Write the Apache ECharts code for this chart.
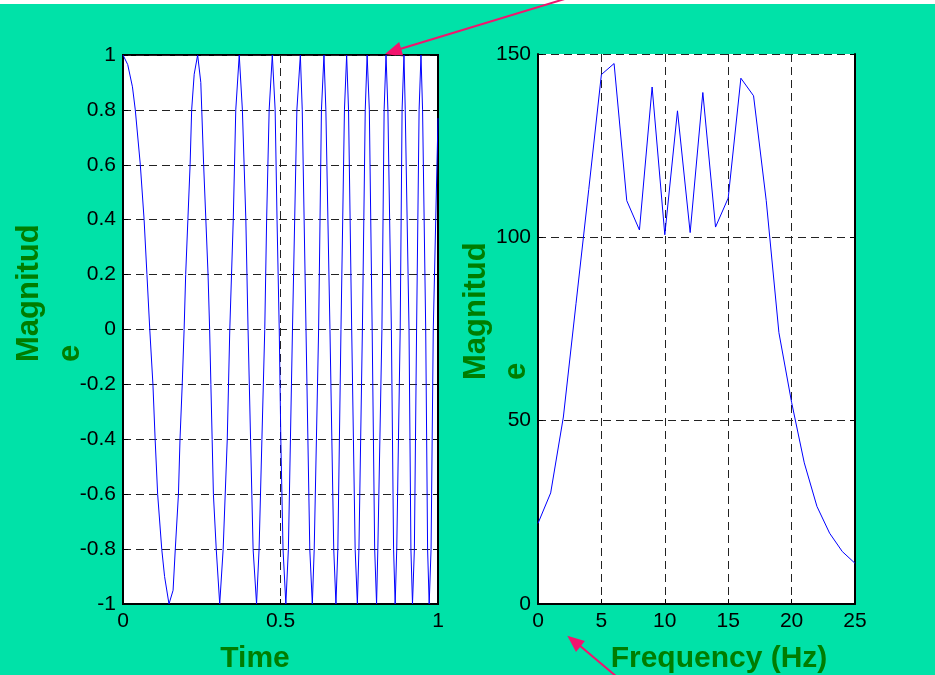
<!DOCTYPE html>
<html>
<head>
<meta charset="utf-8">
<script src="https://cdn.jsdelivr.net/npm/echarts@6/dist/echarts.min.js"></script>
<style>
  html, body { margin: 0; padding: 0; background: #00e2a8; }
  #chart { width: 935px; height: 675px; }
</style>
</head>
<body>
<div id="chart"></div>
<script>
// time signal (chirp)
const chirpT = [
  0, 0.015, 0.030, 0.039, 0.055, 0.067, 0.076, 0.085, 0.095, 0.102, 0.110, 0.123, 0.132, 0.146,
  0.159, 0.166, 0.176, 0.181, 0.188, 0.194, 0.199, 0.206, 0.213, 0.218, 0.226, 0.237,
  0.247, 0.250, 0.256, 0.263, 0.270, 0.275, 0.279, 0.283, 0.287, 0.296, 0.307,
  0.318, 0.331, 0.339, 0.350, 0.358, 0.369,
  0.379, 0.390, 0.397, 0.405, 0.413, 0.424,
  0.432, 0.441, 0.450, 0.456, 0.464, 0.474,
  0.483, 0.489, 0.496, 0.501, 0.508, 0.517,
  0.525, 0.538, 0.552, 0.563,
  0.569, 0.581, 0.593, 0.601,
  0.607, 0.621, 0.630, 0.638,
  0.644, 0.657, 0.669, 0.676,
  0.682, 0.692, 0.703, 0.710,
  0.716, 0.726, 0.737, 0.744,
  0.749, 0.760, 0.769, 0.775,
  0.782, 0.791, 0.799, 0.805,
  0.809, 0.822, 0.829, 0.835,
  0.841, 0.852, 0.859, 0.864,
  0.869, 0.880, 0.886, 0.892,
  0.896, 0.908, 0.914, 0.919,
  0.925, 0.932, 0.940, 0.946,
  0.951, 0.961, 0.967, 0.972,
  0.978, 0.985, 1.0
];
const chirpV = [
  1, 0.965, 0.884, 0.8, 0.6, 0.4, 0.2, 0, -0.2, -0.4, -0.6, -0.8, -0.9, -1,
  -0.95, -0.8, -0.6, -0.4, -0.2, 0, 0.2, 0.4, 0.6, 0.8, 0.93, 1,
  0.9, 0.8, 0.6, 0.4, 0.2, 0, -0.2, -0.4, -0.6, -0.8, -1,
  -0.8, -0.4, 0, 0.4, 0.8, 1,
  0.8, 0.4, 0, -0.4, -0.8, -1,
  -0.8, -0.4, 0, 0.4, 0.8, 1,
  0.8, 0.4, 0, -0.4, -0.8, -1,
  -0.8, 0, 0.8, 1,
  0.8, 0, -0.8, -1,
  -0.8, 0, 0.8, 1,
  0.8, 0, -0.8, -1,
  -0.8, 0, 0.8, 1,
  0.8, 0, -0.8, -1,
  -0.8, 0, 0.8, 1,
  0.8, 0, -0.8, -1,
  -0.8, 0, 0.8, 1,
  0.8, 0, -0.8, -1,
  -0.8, 0, 0.8, 1,
  0.8, 0, -0.8, -1,
  -0.8, 0, 0.8, 1,
  0.8, 0, -0.8, -1,
  -0.8, 0, 0.77
];

// spectrum
const freqHz = [0, 1, 2, 3, 4, 5, 6, 7, 8, 9, 10, 11, 12, 13, 14, 15, 16, 17, 18, 19, 20, 21, 22, 23, 24, 25];
const magnitude = [22, 30.3, 51, 82, 113, 144.4, 147.4, 110, 102, 141, 100.7, 134.5, 101.3, 139.5, 102.8,
  110.7, 143.4, 138.6, 110, 74, 55, 38.5, 26.6, 19.3, 14.3, 11.1];

const leftTicks = { min: -1, max: 1, step: 0.2 };
const rightTicks = { min: 0, max: 150, step: 50 };

const font = '"Liberation Sans", Arial, sans-serif';
const green = '#007d00';
const pink = '#f2146e';

const chart = echarts.init(document.getElementById('chart'));

const gridDash = { show: true, lineStyle: { color: '#222', width: 1, type: [8, 5] } };
const axLine = { show: true, onZero: false, lineStyle: { color: '#000', width: 2 } };
const tick = { show: true, inside: true, length: 5, lineStyle: { color: '#000', width: 1 } };
const lbl = { color: '#000', fontSize: 21, fontFamily: font, margin: 7 };
const fmt1 = v => String(Math.round(v * 10) / 10);

const option = {
  backgroundColor: '#00e2a8',
  animation: false,
  grid: [
    { left: 123, top: 55, width: 315, height: 549, show: true, backgroundColor: '#fff', borderColor: '#000', borderWidth: 2 },
    { left: 538, top: 54, width: 317, height: 550, show: true, backgroundColor: '#fff', borderWidth: 0 }
  ],
  xAxis: [
    {
      gridIndex: 0, type: 'value', min: 0, max: 1, interval: 0.5,
      axisLine: axLine, axisTick: tick, splitLine: gridDash,
      axisLabel: Object.assign({}, lbl, { formatter: fmt1 })
    },
    {
      gridIndex: 1, type: 'value', min: 0, max: 25, interval: 5,
      axisLine: axLine, axisTick: tick, splitLine: gridDash, axisLabel: lbl
    }
  ],
  yAxis: [
    {
      gridIndex: 0, type: 'value', min: leftTicks.min, max: leftTicks.max, interval: leftTicks.step,
      axisLine: axLine, axisTick: tick, splitLine: gridDash,
      axisLabel: Object.assign({}, lbl, { formatter: fmt1 })
    },
    {
      gridIndex: 1, type: 'value', min: rightTicks.min, max: rightTicks.max, interval: rightTicks.step,
      axisLine: axLine, axisTick: tick, splitLine: gridDash, axisLabel: lbl
    },
    {
      gridIndex: 1, type: 'value', position: 'right', min: rightTicks.min, max: rightTicks.max, interval: rightTicks.step,
      axisLine: axLine, axisTick: tick, splitLine: { show: false }, axisLabel: { show: false }
    },
    {
      gridIndex: 0, type: 'value', position: 'right', min: leftTicks.min, max: leftTicks.max, interval: leftTicks.step,
      axisLine: axLine, axisTick: tick, splitLine: { show: false }, axisLabel: { show: false }
    }
  ],
  series: [
    {
      type: 'line', xAxisIndex: 0, yAxisIndex: 0, showSymbol: false, symbol: 'none',
      lineStyle: { color: '#0000ff', width: 1 },
      data: chirpT.map((t, i) => [t, chirpV[i]])
    },
    {
      type: 'line', xAxisIndex: 1, yAxisIndex: 1, showSymbol: false, symbol: 'none',
      lineStyle: { color: '#0000ff', width: 1 },
      data: freqHz.map((f, i) => [f, magnitude[i]])
    }
  ],
  graphic: [
    { type: 'rect', shape: { x: 0, y: 0, width: 935, height: 4 }, style: { fill: '#fff' } },
    // y labels (wrapped "Magnitud" / "e")
    { type: 'text', x: 29.5, y: 362, rotation: Math.PI / 2,
      style: { text: 'Magnitud', fill: green, font: 'bold 31px ' + font, textAlign: 'left', textVerticalAlign: 'middle' } },
    { type: 'text', x: 70, y: 362, rotation: Math.PI / 2,
      style: { text: 'e', fill: green, font: 'bold 31px ' + font, textAlign: 'left', textVerticalAlign: 'middle' } },
    { type: 'text', x: 476.5, y: 380, rotation: Math.PI / 2,
      style: { text: 'Magnitud', fill: green, font: 'bold 31px ' + font, textAlign: 'left', textVerticalAlign: 'middle' } },
    { type: 'text', x: 516, y: 380, rotation: Math.PI / 2,
      style: { text: 'e', fill: green, font: 'bold 31px ' + font, textAlign: 'left', textVerticalAlign: 'middle' } },
    // x labels
    { type: 'text', x: 255, y: 659, style: { text: 'Time', fill: green, font: 'bold 30px ' + font, textAlign: 'center', textVerticalAlign: 'middle' } },
    { type: 'text', x: 719, y: 659, style: { text: 'Frequency (Hz)', fill: green, font: 'bold 30px ' + font, textAlign: 'center', textVerticalAlign: 'middle' } },
    // arrows
    { type: 'line', shape: { x1: 568, y1: -2, x2: 400, y2: 49 }, style: { stroke: pink, lineWidth: 2 } },
    { type: 'polygon', shape: { points: [[385, 54], [399.2, 42], [403.4, 56.4]] }, style: { fill: pink } },
    { type: 'line', shape: { x1: 617, y1: 677, x2: 579, y2: 645 }, style: { stroke: pink, lineWidth: 2 } },
    { type: 'polygon', shape: { points: [[567.3, 635.7], [584.9, 641.1], [576, 651.9]] }, style: { fill: pink } }
  ]
};

chart.setOption(option);
</script>
</body>
</html>
